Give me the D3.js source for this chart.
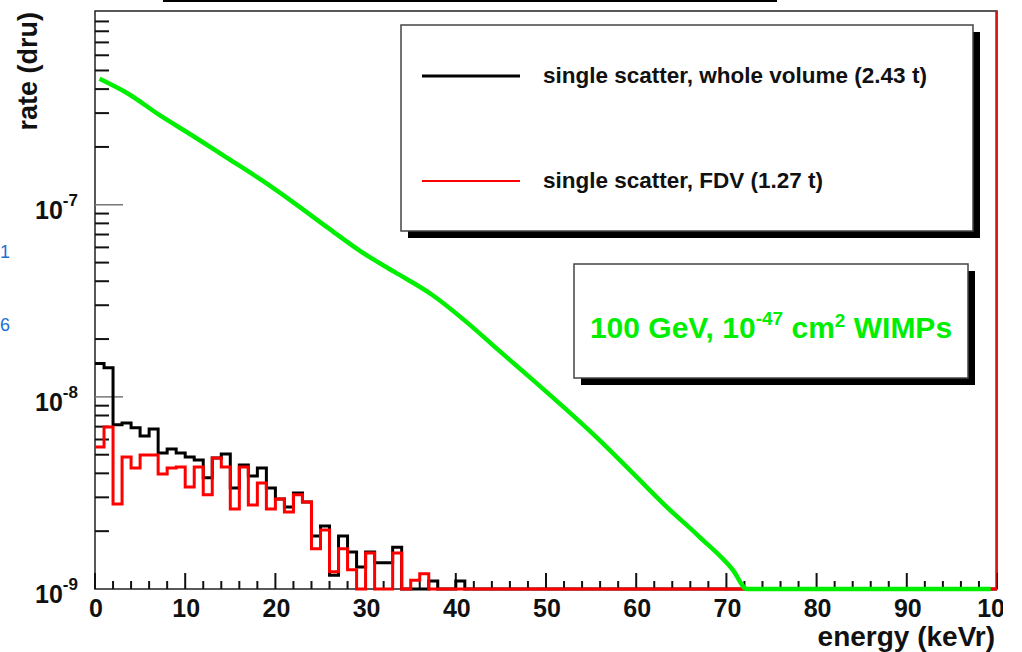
<!DOCTYPE html>
<html>
<head>
<meta charset="utf-8">
<script src="https://cdn.jsdelivr.net/npm/d3@7"></script>
<style>
  body { margin: 0; background: #fff; }
  svg { display: block; font-family: "Liberation Sans", Arial, sans-serif; font-weight: bold; }
</style>
</head>
<body>
<svg id="chart" width="1022" height="652"></svg>
<script>
// --- Data (1 keV bins starting at 0 keVr) ---
const wholeVolume = [
  1.49e-8, 1.42e-8, 7.15e-9, 7.32e-9, 6.90e-9, 6.26e-9, 6.81e-9, 5.11e-9, 5.36e-9, 5.11e-9,
  4.87e-9, 4.70e-9, 3.79e-9, 4.81e-9, 5.05e-9, 3.36e-9, 4.42e-9, 3.88e-9, 4.27e-9, 3.36e-9,
  2.94e-9, 2.67e-9, 3.16e-9, 2.84e-9, 1.89e-9, 2.13e-9, 1.18e-9, 1.89e-9, 1.56e-9, 1.30e-9,
  1.56e-9, 1.37e-9, 1.37e-9, 1.65e-9, 0, 0, 0, 1.10e-9, 0, 0,
  1.10e-9, 0
];
const fdv = [
  5.49e-9, 6.98e-9, 2.77e-9, 4.87e-9, 4.27e-9, 4.99e-9, 4.99e-9, 3.97e-9, 4.27e-9, 4.32e-9,
  3.40e-9, 4.32e-9, 3.09e-9, 4.81e-9, 4.32e-9, 2.61e-9, 4.32e-9, 2.74e-9, 3.56e-9, 2.61e-9,
  2.94e-9, 2.52e-9, 3.09e-9, 2.84e-9, 1.62e-9, 2.03e-9, 1.23e-9, 1.62e-9, 1.26e-9, 0,
  1.54e-9, 0, 0, 1.54e-9, 0, 1.11e-9, 1.20e-9, 0
];
const wimpEnergy = [0.5, 3.5, 7.3, 11.0, 14.6, 18.4, 22.1, 25.8, 29.5, 33.2, 37.4, 41.2,
  44.8, 48.5, 52.3, 55.9, 59.6, 63.4, 67.0, 70.7, 72.3, 99.3];
const wimpRate = [4.53e-7, 3.83e-7, 2.90e-7, 2.26e-7, 1.76e-7, 1.35e-7, 1.02e-7, 7.6e-8,
  5.7e-8, 4.47e-8, 3.39e-8, 2.45e-8, 1.74e-8, 1.23e-8, 8.55e-9, 5.97e-9, 4.02e-9, 2.67e-9,
  1.87e-9, 1.26e-9, 1.0e-9, 1.0e-9];

const xMajorTicks = d3.range(0, 101, 10);
const xMinorTicks = d3.range(0, 101, 2).filter(d => d % 10 !== 0);
const yDecades = [-9, -8, -7];
const legendItems = [
  { label: "single scatter, whole volume (2.43 t)", color: "#000", width: 3 },
  { label: "single scatter, FDV (1.27 t)", color: "#ff0000", width: 2 }
];

const svg = d3.select("#chart");
const yMin = 1e-9;

const x = d3.scaleLinear().domain([0, 100]).range([95, 997]);
const y = d3.scaleLog().domain([yMin, 1.02e-6]).range([589, 11]);
const yc = v => y(Math.max(v, yMin));

// --- Top title box remnant ---
svg.append("line")
  .attr("x1", 163).attr("x2", 777)
  .attr("y1", 1).attr("y2", 1)
  .attr("stroke", "#000").attr("stroke-width", 2);

// --- Frame ---
svg.append("rect")
  .attr("x", x(0)).attr("y", y.range()[1])
  .attr("width", x(100) - x(0))
  .attr("height", y.range()[0] - y.range()[1])
  .attr("fill", "none")
  .attr("stroke", "#222")
  .attr("stroke-width", 1.5);

// --- Y ticks (log) ---
const yTicksG = svg.append("g");
yDecades.forEach(p => {
  for (let m = 2; m <= 9; m++) {
    const v = m * Math.pow(10, p);
    yTicksG.append("line")
      .attr("x1", x(0)).attr("x2", x(0) + 14)
      .attr("y1", y(v)).attr("y2", y(v))
      .attr("stroke", "#111").attr("stroke-width", 2);
  }
  if (p > -9) {
    yTicksG.append("line")
      .attr("x1", x(0)).attr("x2", x(0) + 28)
      .attr("y1", y(Math.pow(10, p))).attr("y2", y(Math.pow(10, p)))
      .attr("stroke", "#777").attr("stroke-width", 1.5);
  }
  const lbl = yTicksG.append("text")
    .attr("x", 35)
    .attr("y", y(Math.pow(10, p)) + 14)
    .attr("font-size", 25)
    .attr("fill", "#111");
  lbl.append("tspan").text("10");
  lbl.append("tspan").attr("dy", -13).attr("font-size", 17).text(String(p));
});

// --- X ticks ---
const xTicksG = svg.append("g");
xMinorTicks.forEach(d => {
  xTicksG.append("line")
    .attr("x1", x(d)).attr("x2", x(d))
    .attr("y1", y(yMin)).attr("y2", y(yMin) - 8)
    .attr("stroke", "#111").attr("stroke-width", 2);
});
xMajorTicks.forEach(d => {
  xTicksG.append("line")
    .attr("x1", x(d)).attr("x2", x(d))
    .attr("y1", y(yMin)).attr("y2", y(yMin) - 16)
    .attr("stroke", "#111").attr("stroke-width", 2);
});

svg.append("clipPath").attr("id", "lblclip")
  .append("rect").attr("x", 0).attr("y", 0).attr("width", 1003).attr("height", 652);

svg.append("g").attr("clip-path", "url(#lblclip)")
  .selectAll("text")
  .data(xMajorTicks)
  .enter()
  .append("text")
  .attr("x", d => x(d) + 1)
  .attr("y", 617)
  .attr("text-anchor", "middle")
  .attr("font-size", 25)
  .attr("fill", "#111")
  .text(d => d);

// --- Axis titles ---
svg.append("text")
  .attr("transform", "translate(37,12) rotate(-90)")
  .attr("text-anchor", "end")
  .attr("font-size", 27)
  .attr("fill", "#111")
  .text("rate (dru)");

svg.append("text")
  .attr("x", 995).attr("y", 646)
  .attr("text-anchor", "end")
  .attr("font-size", 28)
  .attr("fill", "#111")
  .text("energy (keVr)");

// --- Histograms ---
const stepLine = d3.line()
  .x(d => x(d[0]))
  .y(d => yc(d[1]))
  .curve(d3.curveStepAfter);

function histPoints(vals) {
  const pts = vals.map((v, i) => [i, v]);
  pts.push([100, 0]);
  return pts;
}

svg.append("path")
  .datum(histPoints(wholeVolume))
  .attr("fill", "none")
  .attr("stroke", "#000")
  .attr("stroke-width", 3)
  .attr("d", stepLine);

svg.append("path")
  .datum(histPoints(fdv))
  .attr("fill", "none")
  .attr("stroke", "#ff0000")
  .attr("stroke-width", 3)
  .attr("d", stepLine);

svg.append("line")
  .attr("x1", x(100) - 1).attr("x2", x(100) - 1)
  .attr("y1", y(yMin)).attr("y2", y.range()[1])
  .attr("stroke", "#ff0000").attr("stroke-width", 1.5);

// --- WIMP spectrum ---
const wimpLine = d3.line()
  .x(d => x(d[0]))
  .y(d => yc(d[1]))
  .curve(d3.curveMonotoneX);

svg.append("path")
  .datum(wimpEnergy.map((e, i) => [e, wimpRate[i]]))
  .attr("fill", "none")
  .attr("stroke", "#00ee00")
  .attr("stroke-width", 4.5)
  .attr("stroke-linejoin", "round")
  .attr("d", wimpLine);

// --- Legend ---
function shadowBox(x0, y0, x1, y1) {
  svg.append("rect")
    .attr("x", x0 + 7).attr("y", y0 + 7)
    .attr("width", x1 - x0).attr("height", y1 - y0)
    .attr("fill", "#000");
  svg.append("rect")
    .attr("x", x0).attr("y", y0)
    .attr("width", x1 - x0).attr("height", y1 - y0)
    .attr("fill", "#fff")
    .attr("stroke", "#444")
    .attr("stroke-width", 1.5);
}

shadowBox(401, 25, 973, 231);
const legendY = [76, 181];
legendItems.forEach((d, i) => {
  svg.append("line")
    .attr("x1", 422).attr("x2", 520)
    .attr("y1", legendY[i]).attr("y2", legendY[i])
    .attr("stroke", d.color).attr("stroke-width", d.width);
  svg.append("text")
    .attr("x", 543).attr("y", legendY[i] + 7)
    .attr("font-size", 22.5)
    .attr("fill", "#111")
    .text(d.label);
});

shadowBox(574, 264, 968, 378);
const wimpText = svg.append("text")
  .attr("x", 771).attr("y", 338)
  .attr("text-anchor", "middle")
  .attr("font-size", 30)
  .attr("fill", "#00ee00");
wimpText.append("tspan").text("100 GeV, 10");
wimpText.append("tspan").attr("dy", -13).attr("font-size", 19).text("-47");
wimpText.append("tspan").attr("dy", 13).text(" cm");
wimpText.append("tspan").attr("dy", -11).attr("font-size", 19).text("2");
wimpText.append("tspan").attr("dy", 11).text(" WIMPs");

// --- stray page digits at left edge ---
svg.append("text").attr("x", 0).attr("y", 258)
  .attr("font-size", 18).attr("font-weight", "normal").attr("fill", "#1f6fd1").text("1");
svg.append("text").attr("x", 0).attr("y", 331)
  .attr("font-size", 18).attr("font-weight", "normal").attr("fill", "#1f6fd1").text("6");
</script>
</body>
</html>
